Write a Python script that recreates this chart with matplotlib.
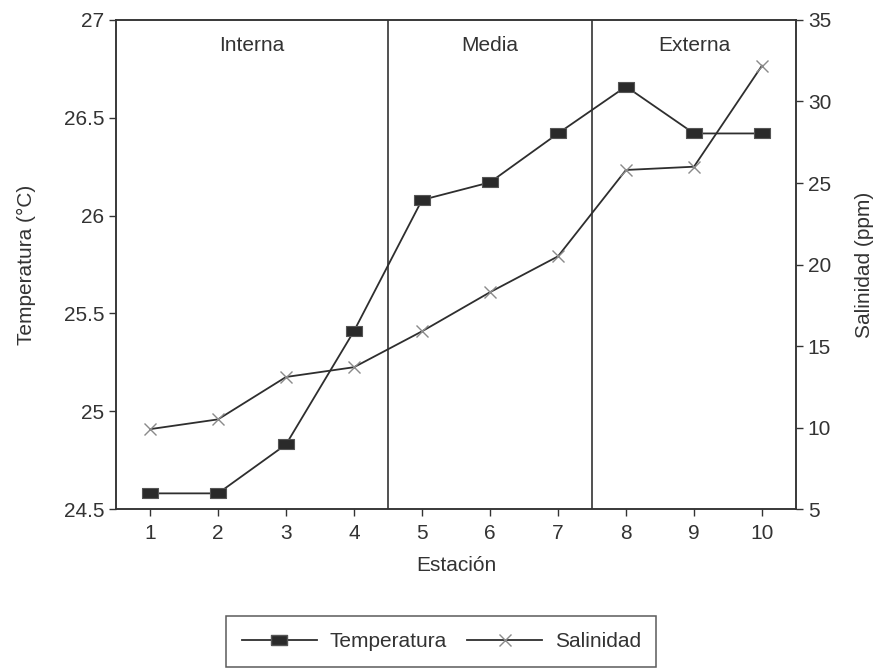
import matplotlib.pyplot as plt
from matplotlib.lines import Line2D

plt.rcParams['font.family'] = ['Liberation Sans', 'DejaVu Sans']

# stations and measurements
estaciones = [1, 2, 3, 4, 5, 6, 7, 8, 9, 10]
temperatura = [24.58, 24.58, 24.83, 25.41, 26.08, 26.17, 26.42, 26.66, 26.42, 26.42]
salinidad = [9.9, 10.5, 13.1, 13.7, 15.9, 18.3, 20.5, 25.8, 26.0, 32.2]

zonas = ['Interna', 'Media', 'Externa']
zona_centros = [2.5, 6.0, 9.0]
limites = [4.5, 7.5]

temp_ticks = [24.5, 25, 25.5, 26, 26.5, 27]
temp_labels = ['24.5', '25', '25.5', '26', '26.5', '27']
sal_ticks = [5, 10, 15, 20, 25, 30, 35]

line_col = '#2e2e2e'
fs = 15

fig = plt.figure(figsize=(8.77, 6.71), dpi=100)
ax = fig.add_axes([0.1323, 0.2414, 0.7753, 0.7288])
ax2 = ax.twinx()

# rectangular marker for temperature
rect = [(-1, -0.6), (1, -0.6), (1, 0.6), (-1, 0.6), (-1, -0.6)]

ax.plot(estaciones, temperatura, color=line_col, lw=1.3, marker=rect,
        markersize=11.5, markerfacecolor='#2a2a2a', markeredgecolor='#555555',
        markeredgewidth=0.8, zorder=3)
ax2.plot(estaciones, salinidad, color=line_col, lw=1.3, marker='x',
         markersize=8, markeredgecolor='#8a8a8a', markeredgewidth=1.0, zorder=3)

for x in limites:
    ax.axvline(x, color='#222222', lw=1.1)

for name, xc in zip(zonas, zona_centros):
    ax.text(xc, 26.87, name, ha='center', va='center', fontsize=fs, color='#333333')

ax.set_xlim(0.5, 10.5)
ax.set_ylim(24.5, 27)
ax2.set_ylim(5, 35)
ax.set_xticks(estaciones)
ax.set_yticks(temp_ticks)
ax.set_yticklabels(temp_labels)
ax2.set_yticks(sal_ticks)

for a in (ax, ax2):
    a.tick_params(direction='out', length=5, width=1, labelsize=fs, colors='#333333',
                  labelcolor='#333333')
    for s in a.spines.values():
        s.set_color('#333333')
        s.set_linewidth(1.1)
ax.tick_params(axis='x', pad=6)

ax.set_xlabel('Estación', fontsize=fs, color='#333333', labelpad=9)
ax.set_ylabel('Temperatura (°C)', fontsize=fs, color='#333333', labelpad=20)
ax2.set_ylabel('Salinidad (ppm)', fontsize=fs, color='#333333', labelpad=17)

handles = [
    Line2D([], [], color=line_col, lw=1.3, marker=rect, markersize=11.5,
           markerfacecolor='#2a2a2a', markeredgecolor='#555555'),
    Line2D([], [], color=line_col, lw=1.3, marker='x', markersize=8,
           markeredgecolor='#8a8a8a'),
]
leg = fig.legend(handles, ['Temperatura', 'Salinidad'], loc='center',
                 bbox_to_anchor=(0.503, 0.044), ncol=2, fontsize=fs,
                 frameon=True, fancybox=False, edgecolor='#333333',
                 handlelength=3.6, columnspacing=1.0, handletextpad=0.6,
                 borderpad=0.75, borderaxespad=0)
leg.get_frame().set_linewidth(1.1)
for t in leg.get_texts():
    t.set_color('#333333')

fig.savefig('out.png', dpi=100)
